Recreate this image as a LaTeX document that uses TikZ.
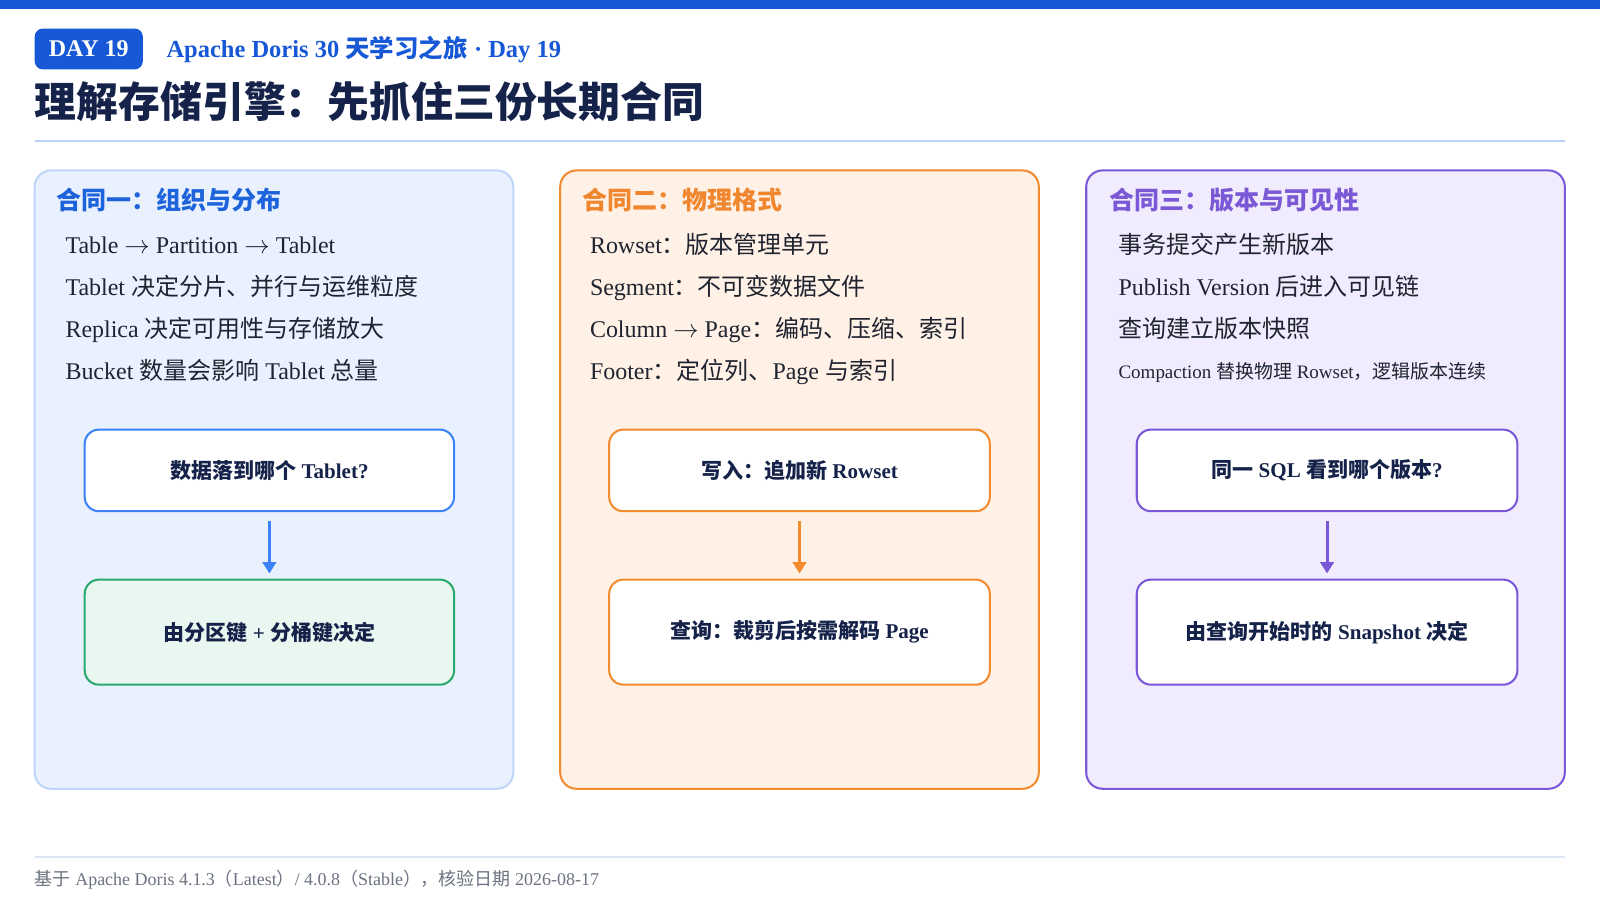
\documentclass[tikz,border=0pt]{standalone}
\usepackage{fontspec}
\setmainfont{Liberation Serif}
\newfontfamily\cjk{Noto Sans CJK SC}
\newcommand\cj[1]{{\cjk #1}}
\newcommand\rarr{\ensuremath{\rightarrow}}
\usetikzlibrary{arrows.meta}
\definecolor{topblue}{HTML}{1658D5}
\definecolor{navy}{HTML}{15224A}
\definecolor{ink}{HTML}{1F2430}
\definecolor{hdrline}{HTML}{BBD3F7}
\definecolor{ftrline}{HTML}{DCE6F6}
\definecolor{ftrtext}{HTML}{6B7280}
\definecolor{cAfill}{HTML}{EAF1FE}
\definecolor{cAline}{HTML}{BFD6FA}
\definecolor{cAhead}{HTML}{1D63DB}
\definecolor{cAbox}{HTML}{3B82F6}
\definecolor{greenline}{HTML}{2BA86B}
\definecolor{greenfill}{HTML}{E8F7EF}
\definecolor{cBfill}{HTML}{FFF1E6}
\definecolor{cBline}{HTML}{F28A2E}
\definecolor{cBhead}{HTML}{F0862E}
\definecolor{cCfill}{HTML}{F1ECFD}
\definecolor{cCline}{HTML}{7A56D8}
\definecolor{cChead}{HTML}{7B58D6}
\begin{document}
\begin{tikzpicture}[x=1pt,y=-1pt,
  colbox/.style={draw, line width=2pt, rounded corners=16pt, minimum width=469pt, minimum height=606pt, inner sep=0pt},
  innerbox/.style={draw, line width=2pt, rounded corners=14pt, fill=white, inner sep=0pt, text=navy, font=\bfseries\fontsize{20.6}{24}\selectfont},
  heading/.style={anchor=west, inner sep=0pt, font=\bfseries\fontsize{24.5}{28}\selectfont, text height=19.6pt, text depth=4.9pt},
  bullet/.style={anchor=west, inner sep=0pt, text=ink, font=\fontsize{23.5}{27}\selectfont, text height=18.8pt, text depth=4.7pt},
  smallbullet/.style={bullet, font=\fontsize{18.6}{22}\selectfont, text height=14.9pt, text depth=3.7pt},
  flow/.style={line width=3pt, -{Triangle[width=13pt,length=11pt]}, shorten <=9pt, shorten >=5pt}
]
\useasboundingbox (0,0) rectangle (1568,882);
\fill[white] (0,0) rectangle (1568,882);
\fill[topblue] (0,0) rectangle (1568,9);

% header
\node[fill=topblue, rounded corners=8pt, minimum width=106pt, minimum height=40pt, inner sep=0pt, text=white, font=\bfseries\fontsize{23.5}{27}\selectfont] (badge) at (87,48) {DAY 19};
\node[anchor=west, inner sep=0pt, text=topblue, font=\bfseries\fontsize{24}{28}\selectfont, text height=19.2pt, text depth=4.8pt] (sub) at (163,49) {Apache Doris 30 \cj{天学习之旅} · Day 19};
\node[anchor=west, inner sep=0pt, text=navy, font=\bfseries\fontsize{41}{47}\selectfont, text height=32.8pt, text depth=8.2pt] (title) at (34,103) {\cj{理解存储引擎：先抓住三份长期合同}};
\draw[hdrline, line width=2pt] (34,138) -- (1534,138);

% columns
\node[colbox, draw=cAline, fill=cAfill] (colA) at (268.5,470) {};
\node[colbox, draw=cBline, fill=cBfill] (colB) at (783.5,470) {};
\node[colbox, draw=cCline, fill=cCfill] (colC) at (1299,470) {};

% column 1
\node[heading, text=cAhead] (hA) at (55,198) {\cj{合同一：组织与分布}};
\node[bullet] (a1) at (64,241) {Table \rarr{} Partition \rarr{} Tablet};
\node[bullet] (a2) at (64,283) {Tablet \cj{决定分片、并行与运维粒度}};
\node[bullet] (a3) at (64,324) {Replica \cj{决定可用性与存储放大}};
\node[bullet] (a4) at (64,365) {Bucket \cj{数量会影响} Tablet \cj{总量}};
\node[innerbox, draw=cAbox, minimum width=362pt, minimum height=80pt] (qA) at (264,461) {\cj{数据落到哪个} Tablet?};
\node[innerbox, draw=greenline, fill=greenfill, minimum width=362pt, minimum height=103pt] (rA) at (264,619.5) {\cj{由分区键} + \cj{分桶键决定}};
\draw[flow, cAbox] (qA) -- (rA);

% column 2
\node[heading, text=cBhead] (hB) at (571,198) {\cj{合同二：物理格式}};
\node[bullet] (b1) at (578,241) {Rowset\cj{：版本管理单元}};
\node[bullet] (b2) at (578,283) {Segment\cj{：不可变数据文件}};
\node[bullet] (b3) at (578,324) {Column \rarr{} Page\cj{：编码、压缩、索引}};
\node[bullet] (b4) at (578,365) {Footer\cj{：定位列、}Page \cj{与索引}};
\node[innerbox, draw=cBline, minimum width=373pt, minimum height=80pt] (qB) at (783.5,461) {\cj{写入：追加新} Rowset};
\node[innerbox, draw=cBline, minimum width=373pt, minimum height=103pt] (rB) at (783.5,619.5) {\cj{查询：裁剪后按需解码} Page};
\draw[flow, cBline] (qB) -- (rB);

% column 3
\node[heading, text=cChead] (hC) at (1087,198) {\cj{合同三：版本与可见性}};
\node[bullet] (c1) at (1096,241) {\cj{事务提交产生新版本}};
\node[bullet] (c2) at (1096,283) {Publish Version \cj{后进入可见链}};
\node[bullet] (c3) at (1096,324) {\cj{查询建立版本快照}};
\node[smallbullet] (c4) at (1096,365.5) {Compaction \cj{替换物理} Rowset\cj{，逻辑版本连续}};
\node[innerbox, draw=cCline, minimum width=373pt, minimum height=80pt] (qC) at (1300.5,461) {\cj{同一} SQL \cj{看到哪个版本}?};
\node[innerbox, draw=cCline, minimum width=373pt, minimum height=103pt] (rC) at (1300.5,619.5) {\cj{由查询开始时的} Snapshot \cj{决定}};
\draw[flow, cCline] (qC) -- (rC);

% footer
\draw[ftrline, line width=1.5pt] (34,840) -- (1534,840);
\node[anchor=west, inner sep=0pt, text=ftrtext, font=\fontsize{17.6}{21}\selectfont, text height=14.1pt, text depth=3.5pt] (foot) at (34,862) {\cj{基于} Apache Doris 4.1.3\cj{（}Latest\cj{）}/ 4.0.8\cj{（}Stable\cj{），核验日期} 2026-08-17};
\end{tikzpicture}
\end{document}
